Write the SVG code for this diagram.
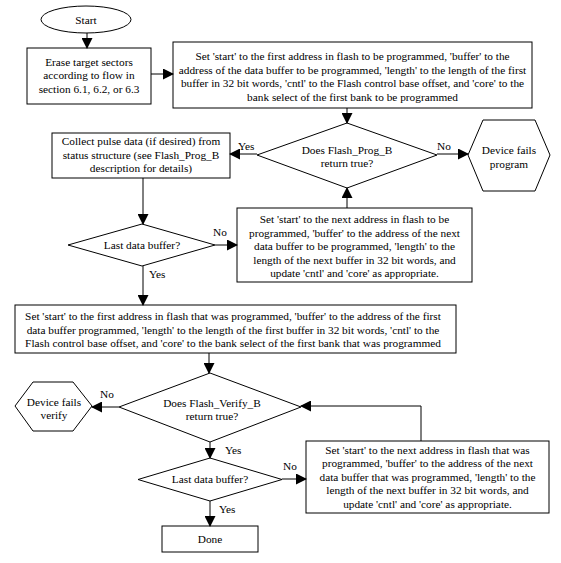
<svg xmlns="http://www.w3.org/2000/svg" width="561" height="563" viewBox="0 0 561 563">
<style>
.s{fill:#fff;stroke:#000;stroke-width:1}
text{font-family:"Liberation Serif","Times New Roman",serif;font-size:11.3px;fill:#000}
.c{text-anchor:middle}
.e{fill:none;stroke:#000;stroke-width:1}
</style>
<defs>
<marker id="a" markerUnits="userSpaceOnUse" markerWidth="11" markerHeight="11" refX="10" refY="5.5" orient="auto" viewBox="0 0 11 11">
<path d="M0,0 L11,5.5 L0,11 z" fill="#000"/>
</marker>
</defs>
<rect width="561" height="563" fill="#fff"/>
<g id="start"><ellipse class="s" cx="86" cy="19.5" rx="45" ry="13.5"/><text class="c" x="86" y="23.5">Start</text></g>
<g id="erase"><rect class="s" x="27" y="48" width="124" height="56"/>
<text class="c" x="89"><tspan x="89" y="65.5">Erase target sectors</tspan><tspan x="89" y="79.2">according to flow in</tspan><tspan x="89" y="92.9">section 6.1, 6.2, or 6.3</tspan></text></g>
<g id="set1"><rect class="s" x="173" y="42" width="359" height="66"/>
<text class="c"><tspan x="352.5" y="60">Set 'start' to the first address in flash to be programmed, 'buffer' to the</tspan><tspan x="352.5" y="73.7">address of the data buffer to be programmed, 'length' to the length of the first</tspan><tspan x="352.5" y="87.4">buffer in 32 bit words, 'cntl' to the Flash control base offset, and 'core' to the</tspan><tspan x="352.5" y="101.1">bank select of the first bank to be programmed</tspan></text></g>
<g id="d1"><polygon class="s" points="347,123 437,155 347,188 257,155"/>
<text class="c"><tspan x="347" y="153.5">Does Flash_Prog_B</tspan><tspan x="347" y="167">return true?</tspan></text></g>
<g id="fail1"><polygon class="s" points="468,155 483,120 535,120 550,155 535,191 483,191"/>
<text class="c"><tspan x="509" y="154">Device fails</tspan><tspan x="509" y="167.5">program</tspan></text></g>
<g id="collect"><rect class="s" x="52" y="133" width="178" height="45"/>
<text class="c"><tspan x="141" y="145">Collect pulse data (if desired) from</tspan><tspan x="141" y="158.5">status structure (see Flash_Prog_B</tspan><tspan x="141" y="172">description for details)</tspan></text></g>
<g id="d2"><polygon class="s" points="142,224 215,245 142,266 68,245"/>
<text class="c" x="142" y="249">Last data buffer?</text></g>
<g id="set2"><rect class="s" x="237" y="208" width="235" height="74"/>
<text class="c"><tspan x="354.5" y="223">Set 'start' to the next address in flash to be</tspan><tspan x="354.5" y="236.6">programmed, 'buffer' to the address of the next</tspan><tspan x="354.5" y="250.2">data buffer to be programmed, 'length' to the</tspan><tspan x="354.5" y="263.8">length of the next buffer in 32 bit words, and</tspan><tspan x="354.5" y="277.4">update 'cntl' and 'core' as appropriate.</tspan></text></g>
<g id="set3"><rect class="s" x="15" y="305" width="441" height="48"/>
<text class="c"><tspan x="233" y="320">Set 'start' to the first address in flash that was programmed, 'buffer' to the address of the first</tspan><tspan x="233" y="333.7">data buffer programmed, 'length' to the length of the first buffer in 32 bit words, 'cntl' to the</tspan><tspan x="233" y="347.4">Flash control base offset, and 'core' to the bank select of the first bank that was programmed</tspan></text></g>
<g id="d3"><polygon class="s" points="210,373 301,407 210,442 119,407"/>
<text class="c"><tspan x="212" y="406.5">Does Flash_Verify_B</tspan><tspan x="212" y="419.5">return true?</tspan></text></g>
<g id="fail2"><polygon class="s" points="15,406 33,382 73,382 92,406 73,431 33,431"/>
<text class="c"><tspan x="54" y="406">Device fails</tspan><tspan x="54" y="419">verify</tspan></text></g>
<g id="d4"><polygon class="s" points="210,458 282,479.5 210,501 138,479.5"/>
<text class="c" x="210" y="483">Last data buffer?</text></g>
<g id="set4"><rect class="s" x="306" y="441" width="243" height="72"/>
<text class="c"><tspan x="427.5" y="453.5">Set 'start' to the next address in flash that was</tspan><tspan x="427.5" y="467.1">programmed, 'buffer' to the address of the next</tspan><tspan x="427.5" y="480.7">data buffer that was programmed, 'length' to the</tspan><tspan x="427.5" y="494.3">length of the next buffer in 32 bit words, and</tspan><tspan x="427.5" y="507.9">update 'cntl' and 'core' as appropriate.</tspan></text></g>
<g id="done"><rect class="s" x="162" y="526" width="96" height="26"/><text class="c" x="210" y="543">Done</text></g>
<g id="connectors">
<path class="e" d="M87,33 V48" marker-end="url(#a)"/>
<path class="e" d="M151,74 H173" marker-end="url(#a)"/>
<path class="e" d="M347,108 V123" marker-end="url(#a)"/>
<path class="e" d="M257,154 H230" marker-end="url(#a)"/>
<path class="e" d="M437,154 H468" marker-end="url(#a)"/>
<path class="e" d="M143,178 V224" marker-end="url(#a)"/>
<path class="e" d="M215,245 H237" marker-end="url(#a)"/>
<path class="e" d="M347,208 V188" marker-end="url(#a)"/>
<path class="e" d="M143,266 V305" marker-end="url(#a)"/>
<path class="e" d="M209,353 V373" marker-end="url(#a)"/>
<path class="e" d="M119,407 H92" marker-end="url(#a)"/>
<path class="e" d="M210,442 V458" marker-end="url(#a)"/>
<path class="e" d="M282,479 H306" marker-end="url(#a)"/>
<path class="e" d="M210,501 V526" marker-end="url(#a)"/>
<path class="e" d="M421,441 V406 H301" marker-end="url(#a)"/>
<text x="238" y="150">Yes</text>
<text x="437" y="150">No</text>
<text x="213" y="236">No</text>
<text x="149" y="278">Yes</text>
<text x="100" y="397.5">No</text>
<text x="225" y="454">Yes</text>
<text x="283" y="470">No</text>
<text x="219" y="512.5">Yes</text>
</g>
</svg>
